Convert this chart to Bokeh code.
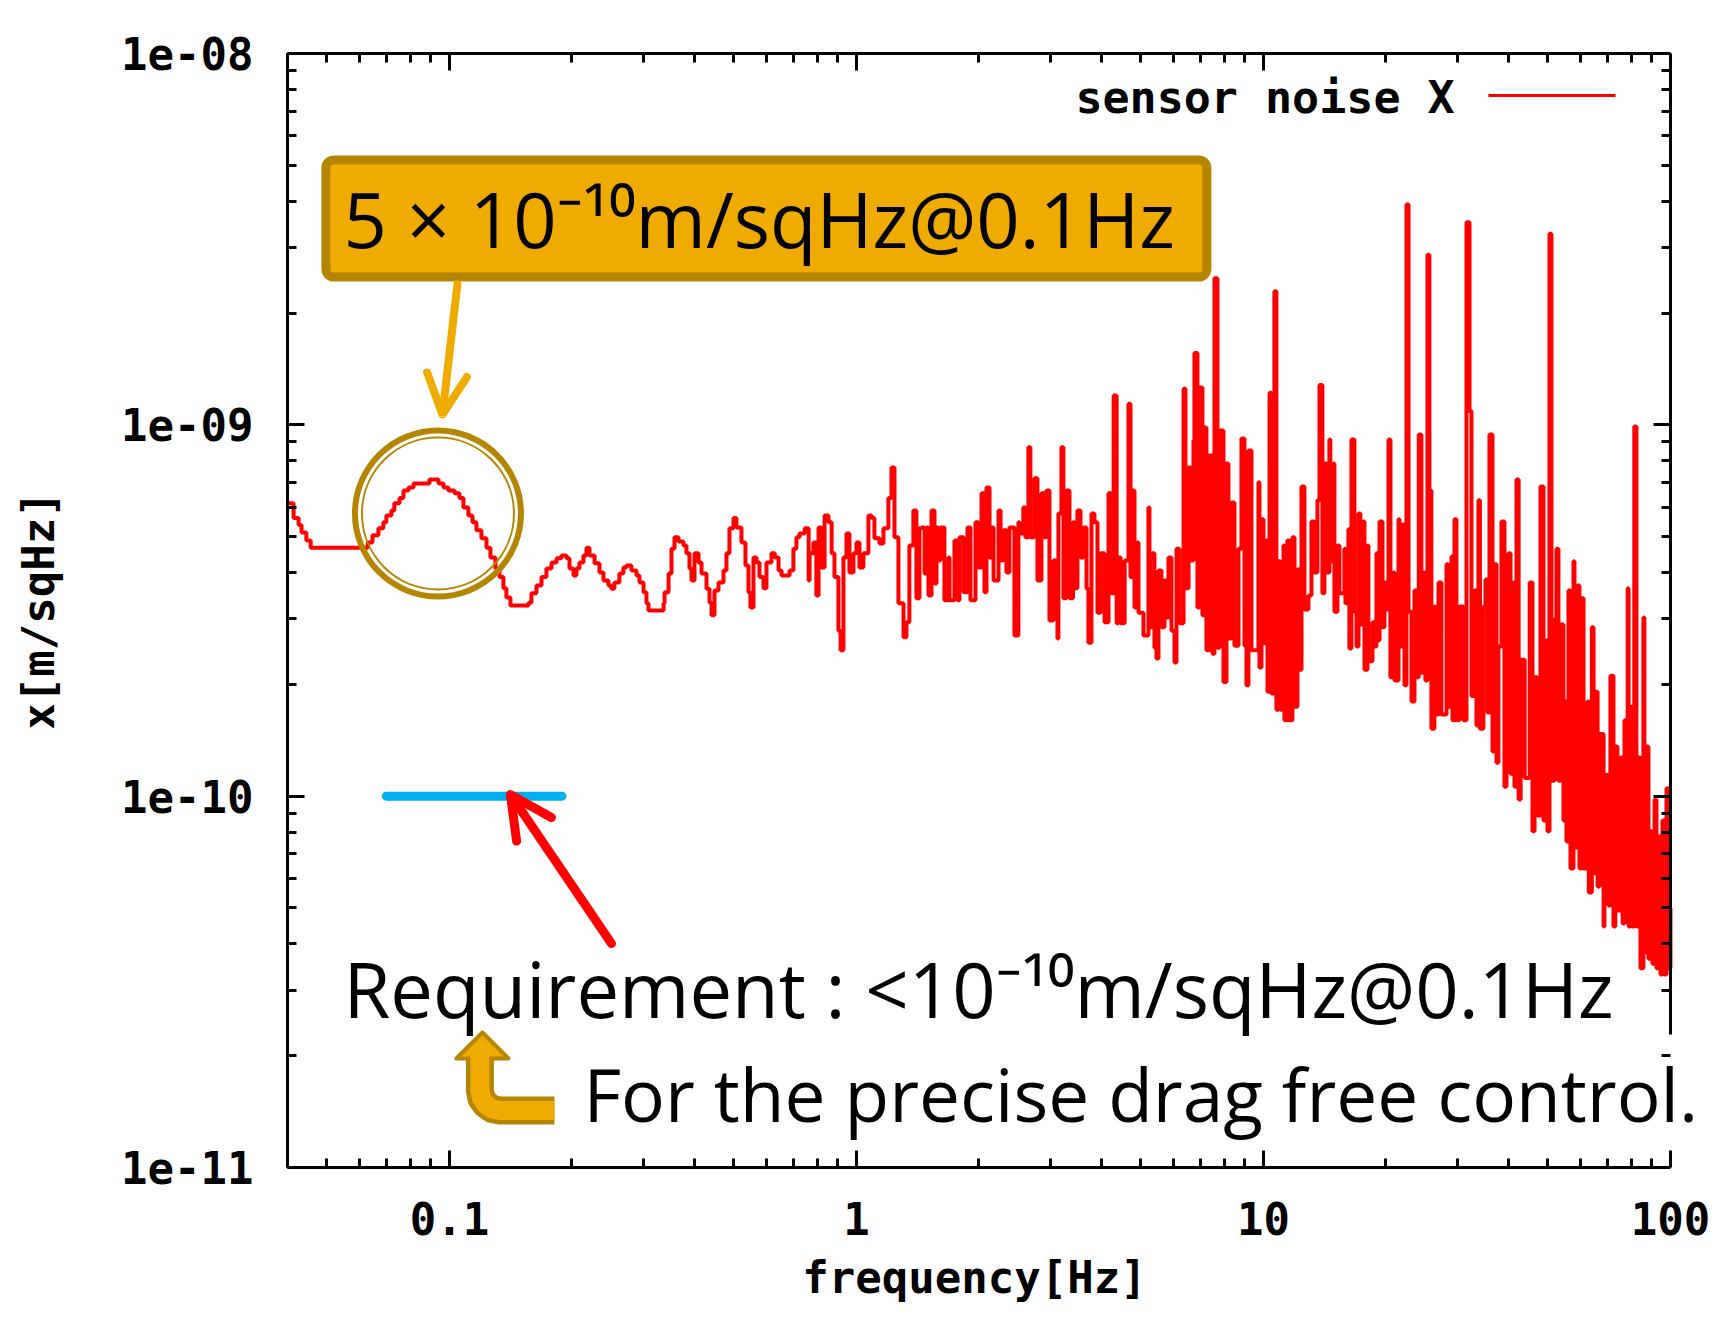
from bokeh.plotting import figure
from bokeh.models import (LogAxis, FixedTicker, CustomJSTickFormatter, Label,
                          Arrow, OpenHead, BoxAnnotation)
from bokeh.embed import file_html
from bokeh.resources import INLINE

# ---------------- data ----------------
freq_a = [0.0400, 0.0414, 0.0426, 0.0433, 0.0445, 0.0456, 0.0630, 0.0647, 0.0669, 0.0688,
          0.0700, 0.0720, 0.0732, 0.0754, 0.0771, 0.0793, 0.0816, 0.0893, 0.0940, 0.0967,
          0.0994]
asd_a = [6.15e-10, 5.61e-10, 5.37e-10, 5.13e-10, 4.88e-10, 4.67e-10, 4.82e-10, 5.04e-10, 5.27e-10, 5.47e-10,
         5.70e-10, 5.88e-10, 6.15e-10, 6.35e-10, 6.66e-10, 6.78e-10, 6.95e-10, 7.13e-10, 6.95e-10, 6.78e-10,
         6.66e-10]

freq_b = [0.1029, 0.1058, 0.1082, 0.1113, 0.1139, 0.1165, 0.1198, 0.1233, 0.1261, 0.1297, 0.1327, 0.1357, 0.1380, 0.1412,
          0.1564, 0.1590, 0.1636, 0.1683, 0.1731, 0.1781, 0.1833, 0.1884, 0.1939, 0.1972,
          0.2017, 0.2051, 0.2086, 0.2134, 0.2171, 0.2208, 0.2272, 0.2336, 0.2390, 0.2458, 0.2500, 0.2542, 0.2615, 0.2675,
          0.2721, 0.2799, 0.2881, 0.2930, 0.2998, 0.3048, 0.3083,
          0.3358, 0.3377, 0.3454, 0.3512, 0.3572, 0.3654, 0.3758, 0.3822, 0.3888, 0.3932,
          0.4000, 0.4092, 0.4162, 0.4281, 0.4354, 0.4404, 0.4479, 0.4582, 0.4713, 0.4793, 0.4875, 0.4987,
          0.5072, 0.5217, 0.5337, 0.5429, 0.5490, 0.5584, 0.5680, 0.5777, 0.5909,
          0.6010, 0.6183, 0.6300, 0.6435, 0.6546, 0.6850,
          0.7000, 0.7120, 0.7244, 0.7460, 0.7630, 0.7670, 0.7840, 0.7970,
          0.8070, 0.8200, 0.8350, 0.8540, 0.8690, 0.8830,
          0.9030, 0.9140, 0.9290, 0.9450, 0.9610, 0.9830]
asd_b = [6.54e-10, 6.35e-10, 5.99e-10, 5.70e-10, 5.47e-10, 5.20e-10, 4.95e-10, 4.67e-10, 4.39e-10, 4.10e-10, 3.89e-10, 3.63e-10, 3.43e-10, 3.26e-10,
         3.32e-10, 3.52e-10, 3.69e-10, 3.89e-10, 4.10e-10, 4.26e-10, 4.37e-10, 4.45e-10, 4.37e-10, 4.10e-10,
         3.93e-10, 4.10e-10, 4.26e-10, 4.45e-10, 4.67e-10, 4.45e-10, 4.24e-10, 4.00e-10, 3.81e-10, 3.69e-10, 3.62e-10, 3.76e-10, 3.98e-10, 4.13e-10,
         4.18e-10, 4.05e-10, 3.93e-10, 3.76e-10, 3.54e-10, 3.31e-10, 3.16e-10,
         3.31e-10, 3.54e-10, 3.98e-10, 4.64e-10, 4.98e-10, 4.85e-10, 4.73e-10, 4.51e-10, 4.10e-10, 3.81e-10,
         4.51e-10, 4.26e-10, 3.98e-10, 3.62e-10, 3.32e-10, 3.07e-10, 3.58e-10, 3.76e-10, 4.05e-10, 4.51e-10, 5.27e-10, 5.61e-10,
         5.29e-10, 4.82e-10, 4.18e-10, 3.54e-10, 3.22e-10, 4.39e-10, 4.26e-10, 3.89e-10, 3.63e-10,
         4.26e-10, 4.51e-10, 4.39e-10, 4.05e-10, 3.93e-10, 4.05e-10,
         4.64e-10, 4.98e-10, 5.10e-10, 5.27e-10, 3.81e-10, 4.51e-10, 4.82e-10, 3.47e-10,
         5.29e-10, 4.13e-10, 5.70e-10, 5.47e-10, 4.51e-10, 3.89e-10,
         2.79e-10, 2.47e-10, 4.39e-10, 5.10e-10, 4.00e-10, 4.51e-10]

freq_c = [1.000, 1.017, 1.040, 1.070, 1.089, 1.107, 1.139, 1.165, 1.198, 1.219,
          1.240, 1.268, 1.305, 1.327, 1.349, 1.380, 1.404, 1.428, 1.445, 1.470,
          1.486, 1.503, 1.529, 1.555, 1.573, 1.590, 1.608, 1.645, 1.683, 1.693,
          1.741, 1.771, 1.791, 1.833, 1.874, 1.906, 1.961, 1.994, 2.029, 2.063,
          2.087, 2.123, 2.147, 2.172, 2.234, 2.260, 2.297, 2.336, 2.376, 2.444,
          2.500, 2.515, 2.570, 2.600, 2.645, 2.675, 2.737, 2.784, 2.848, 2.897,
          2.930, 2.980, 3.048, 3.118, 3.135, 3.189, 3.225, 3.281, 3.337, 3.404,
          3.434, 3.491, 3.552, 3.613, 3.675, 3.715, 3.779, 3.844, 3.910, 3.977,
          4.069, 4.162, 4.236, 4.285, 4.358, 4.408, 4.458, 4.560, 4.659, 4.713,
          4.767, 4.821, 4.903, 4.931, 5.072, 5.217, 5.246, 5.337, 5.397, 5.458,
          5.521, 5.616, 5.713, 5.777, 5.843, 5.943, 6.045, 6.114, 6.218, 6.363,
          6.433, 6.546, 6.621, 6.730, 6.767, 6.883, 6.962, 7.081, 7.161, 7.243,
          7.367, 7.494, 7.580, 7.709, 7.797, 7.975, 8.112, 8.204, 8.345, 8.487,
          8.683, 8.830, 8.981, 9.083, 9.186, 9.344, 9.721, 9.777, 9.888]
asd_c = [4.82e-10, 4.13e-10, 4.51e-10, 5.70e-10, 5.61e-10, 4.95e-10, 4.79e-10, 5.27e-10, 6.35e-10, 7.68e-10,
         4.98e-10, 3.31e-10, 2.68e-10, 2.94e-10, 4.73e-10, 5.88e-10, 3.41e-10, 5.27e-10, 5.29e-10, 3.98e-10,
         5.29e-10, 3.47e-10, 5.88e-10, 3.74e-10, 5.29e-10, 4.31e-10, 5.29e-10, 3.37e-10, 4.39e-10, 3.37e-10,
         4.88e-10, 3.37e-10, 4.98e-10, 3.54e-10, 5.29e-10, 3.37e-10, 5.47e-10, 4.13e-10, 6.54e-10, 3.54e-10,
         6.78e-10, 4.39e-10, 5.29e-10, 3.81e-10, 5.88e-10, 4.31e-10, 5.20e-10, 4.00e-10, 5.29e-10, 2.71e-10,
         5.47e-10, 5.10e-10, 5.99e-10, 4.98e-10, 8.70e-10, 4.98e-10, 7.18e-10, 3.81e-10, 6.54e-10, 4.98e-10,
         6.66e-10, 2.97e-10, 4.31e-10, 2.66e-10, 5.77e-10, 8.70e-10, 3.41e-10, 6.66e-10, 3.41e-10, 5.47e-10,
         3.63e-10, 5.88e-10, 4.39e-10, 5.29e-10, 3.62e-10, 2.59e-10, 5.77e-10, 5.47e-10, 3.12e-10, 4.51e-10,
         2.94e-10, 6.54e-10, 3.52e-10, 1.20e-9, 2.92e-10, 4.39e-10, 2.92e-10, 4.31e-10, 1.14e-9, 3.89e-10,
         6.66e-10, 3.22e-10, 4.82e-10, 3.12e-10, 2.71e-10, 5.99e-10, 2.85e-10, 4.51e-10, 2.51e-10, 2.35e-10,
         4.05e-10, 2.85e-10, 3.81e-10, 3.03e-10, 4.39e-10, 2.79e-10, 2.29e-10, 4.64e-10, 2.92e-10, 1.25e-9,
         3.63e-10, 7.68e-10, 4.31e-10, 9.08e-10, 1.56e-9, 3.22e-10, 1.26e-9, 3.07e-10, 9.84e-10, 2.47e-10,
         8.27e-10, 2.42e-10, 2.48e-9, 2.51e-10, 9.66e-10, 2.03e-10, 7.87e-10, 2.66e-10, 6.18e-10, 2.54e-10,
         4.64e-10, 9.19e-10, 2.54e-10, 1.99e-10, 8.53e-10, 2.47e-10, 7.00e-10, 2.22e-10, 5.57e-10]

freq_d = [10.00, 10.17, 10.23, 10.35, 10.46, 10.64, 10.76, 10.89, 11.01, 11.20,
          11.26, 11.45, 11.58, 11.78, 11.92, 12.12, 12.26, 12.40, 12.61, 12.90,
          13.12, 13.34, 13.57, 13.73, 13.96, 14.12, 14.28, 14.52, 14.60, 14.86,
          14.94, 15.20, 15.37, 15.81, 15.90, 16.17, 16.26, 16.45, 16.73, 16.93,
          17.12, 17.31, 17.61, 17.71, 18.01, 18.11, 18.53, 18.74, 18.95, 19.17,
          19.28, 19.61, 19.83, 20.07, 20.29, 20.51, 20.87, 20.99, 21.47, 21.59,
          21.96, 22.21, 22.46, 22.72, 23.11, 23.50, 23.77, 24.08, 24.44, 24.86,
          25.00, 25.29, 25.57, 25.86, 26.30, 26.45, 26.92, 27.37, 28.17, 28.48,
          28.97, 29.14, 29.47, 29.80, 30.31, 30.99, 31.54, 32.08, 32.44, 33.00,
          33.37, 33.75, 34.04, 34.71, 35.11, 35.52, 35.92, 36.54, 36.96, 37.38,
          37.79, 38.44, 39.10, 39.55, 40.00, 40.46, 41.16, 41.38, 41.86, 42.36,
          42.85, 43.84, 45.10, 45.82, 46.35, 47.13, 47.93, 48.75, 49.60, 49.87,
          50.44, 51.01, 51.88, 52.46, 53.06, 53.67, 54.58, 55.21, 55.53, 56.16,
          56.80, 57.77, 58.10, 59.09, 59.76, 60.40, 61.15, 62.52, 63.00, 64.10,
          64.72, 65.46, 66.21, 66.97, 68.50, 68.84, 70.40, 71.20, 72.44, 73.20,
          74.10, 75.40, 76.30, 77.10, 77.60, 78.50, 78.90, 79.70, 80.60, 81.50,
          82.50, 83.40, 84.40, 85.80, 86.30, 87.30, 88.30, 89.30, 90.30, 91.40,
          92.40, 93.40, 94.50, 95.60, 96.70, 97.80, 98.90, 100.0]
asd_d = [2.58e-10, 4.88e-10, 1.91e-10, 1.22e-9, 1.89e-10, 2.29e-9, 1.71e-10, 4.29e-10, 1.71e-10, 4.73e-10,
         1.60e-10, 4.88e-10, 1.60e-10, 4.98e-10, 1.74e-10, 4.08e-10, 2.19e-10, 6.82e-10, 3.18e-10, 3.47e-10,
         5.49e-10, 4.00e-10, 6.26e-10, 1.28e-9, 3.52e-10, 7.87e-10, 4.00e-10, 9.13e-10, 4.29e-10, 7.87e-10,
         3.14e-10, 4.73e-10, 3.52e-10, 4.64e-10, 3.31e-10, 5.23e-10, 2.50e-10, 9.13e-10, 3.14e-10, 2.53e-10,
         5.77e-10, 2.90e-10, 5.49e-10, 2.19e-10, 4.73e-10, 2.31e-10, 2.94e-10, 2.53e-10, 4.51e-10, 2.63e-10,
         5.49e-10, 2.85e-10, 3.76e-10, 3.18e-10, 9.13e-10, 2.09e-10, 4.00e-10, 2.05e-10, 5.57e-10, 2.53e-10,
         5.39e-10, 1.99e-10, 3.92e-9, 3.14e-10, 1.80e-10, 3.58e-10, 2.09e-10, 9.42e-10, 2.15e-10, 4.00e-10,
         2.05e-10, 2.87e-9, 6.66e-10, 1.52e-10, 3.24e-10, 1.66e-10, 3.76e-10, 1.66e-10, 4.21e-10, 1.74e-10,
         4.42e-10, 1.60e-10, 5.57e-10, 1.60e-10, 3.24e-10, 1.60e-10, 3.51e-9, 1.09e-9, 1.86e-10, 3.58e-10,
         1.55e-10, 6.26e-10, 1.52e-10, 3.24e-10, 3.83e-10, 1.68e-10, 9.42e-10, 1.32e-10, 4.21e-10, 1.23e-10,
         2.53e-10, 5.49e-10, 1.06e-10, 2.09e-10, 4.51e-10, 1.15e-10, 3.76e-10, 1.06e-10, 7.13e-10, 9.80e-11,
         2.33e-10, 1.12e-10, 3.76e-10, 8.04e-11, 2.09e-10, 8.87e-11, 6.82e-10, 8.60e-11, 2.63e-10, 8.04e-11,
         3.27e-9, 1.10e-10, 2.99e-10, 4.64e-10, 1.10e-10, 2.90e-10, 8.60e-11, 1.80e-10, 7.55e-11, 3.58e-10,
         6.39e-11, 4.29e-10, 7.27e-11, 3.69e-10, 6.39e-11, 3.41e-10, 6.39e-11, 1.80e-10, 5.50e-11, 2.85e-10,
         6.20e-11, 1.91e-10, 5.71e-11, 1.47e-10, 4.46e-11, 1.14e-10, 5.08e-11, 2.11e-10, 4.46e-11, 1.36e-10,
         4.92e-11, 1.27e-10, 4.54e-11, 1.60e-10, 4.59e-11, 3.63e-10, 4.46e-11, 1.74e-10, 4.46e-11, 9.90e-10,
         4.46e-11, 1.27e-10, 3.44e-11, 3.03e-10, 3.80e-11, 1.36e-10, 3.65e-11, 8.04e-11, 3.54e-11, 9.80e-11,
         3.44e-11, 7.79e-11, 3.31e-11, 8.60e-11, 3.31e-11, 1.05e-10, 3.44e-11, 5.00e-11]

freq_hz = freq_a + freq_b + freq_c + freq_d
asd_x = asd_a + asd_b + asd_c + asd_d

# requirement line (10^-10 m/sqHz around 0.1 Hz)
req_freq = [0.070, 0.189]
req_level = [1e-10, 1e-10]

x_major = [0.1, 1.0, 10.0, 100.0]
y_major = [1e-11, 1e-10, 1e-9, 1e-8]
x_minor = [m * 10.0 ** e for e in (-2, -1, 0, 1) for m in range(2, 10)]
y_minor = [m * 10.0 ** e for e in (-11, -10, -9) for m in range(2, 10)]

X_MIN, X_MAX = 0.04, 100.0      # plotted frequency span
Y_MIN, Y_MAX = 1e-11, 1e-8

# ---------------- styles ----------------
GP_FONT = "DejaVu Sans Mono"
PPT_FONT = "Open Sans"
ORANGE = "#F0AB00"
GOLD = "#B68500"
RED = "#FF0000"
BLUE = "#00B0F0"

# the frame runs to the canvas edge so that the slide text may pass the plot border;
# the right border is an axis fixed at X_MAX
p = figure(width=1714, height=1305, x_axis_type="log", y_axis_type="log",
           x_range=(X_MIN, 128.3), y_range=(Y_MIN, Y_MAX),
           output_backend="svg", toolbar_location=None,
           min_border_left=287, min_border_right=0, min_border_top=53, min_border_bottom=138,
           background_fill_color="white", border_fill_color="white", outline_line_color=None)
p.xgrid.visible = False
p.ygrid.visible = False


def style_axis(ax):
    ax.axis_line_width = 3
    ax.axis_line_color = "black"
    ax.major_tick_in = 17
    ax.major_tick_out = 0
    ax.minor_tick_in = 9
    ax.minor_tick_out = 0
    ax.major_tick_line_width = 3
    ax.minor_tick_line_width = 3
    ax.major_tick_line_color = "black"
    ax.minor_tick_line_color = "black"
    ax.major_label_text_font = GP_FONT
    ax.major_label_text_font_style = "bold"
    ax.major_label_text_font_size = "44px"
    ax.major_label_text_color = "black"
    ax.axis_label_text_font = GP_FONT
    ax.axis_label_text_font_style = "bold"
    ax.axis_label_text_font_size = "44px"
    ax.axis_label_text_color = "black"


xa = p.xaxis[0]
xa.ticker = FixedTicker(ticks=x_major, minor_ticks=x_minor)
xa.formatter = CustomJSTickFormatter(code="return tick < 1 ? tick.toFixed(1) : tick.toFixed(0);")
xa.axis_label = "frequency[Hz]\u00a0\u00a0"
xa.bounds = (X_MIN, X_MAX)
style_axis(xa)
xa.major_label_standoff = 34
xa.axis_label_standoff = 14

ya = p.yaxis[0]
ya.ticker = FixedTicker(ticks=y_major, minor_ticks=y_minor)
ya.formatter = CustomJSTickFormatter(code=r"""
const s = tick.toExponential(0);
return s.replace(/e([+-])(\d)$/, function(m, sg, d) { return 'e' + sg + '0' + d; });
""")
ya.axis_label = "x[m/sqHz]"
style_axis(ya)
ya.major_label_standoff = 34
ya.axis_label_standoff = 54

top = LogAxis(ticker=FixedTicker(ticks=x_major, minor_ticks=x_minor),
              formatter=CustomJSTickFormatter(code="return '';"), bounds=(X_MIN, X_MAX))
style_axis(top)
p.add_layout(top, "above")
# right border: stops where the slide text box covers it
right = LogAxis(ticker=FixedTicker(ticks=y_major, minor_ticks=y_minor),
                formatter=CustomJSTickFormatter(code="return '';"),
                fixed_location=X_MAX, bounds=(2.28e-11, Y_MAX))
style_axis(right)
right.major_label_standoff = 0
right.major_label_text_font_size = "1px"
p.add_layout(right, "right")

# ---------------- data line ----------------
p.step(freq_hz, asd_x, mode="after", line_color=RED, line_width=4)

# ---------------- annotations ----------------
# ring around the 0.1 Hz hump
p.circle(x=[0.0937], y=[5.77e-10], radius=83, radius_units="screen",
         fill_color=None, line_color=GOLD, line_width=6)
p.circle(x=[0.0937], y=[5.77e-10], radius=76, radius_units="screen",
         fill_color=None, line_color=GOLD, line_width=2)

# requirement level
p.line(req_freq, req_level, line_color=BLUE, line_width=9, line_cap="round")

# red arrow pointing at the requirement level
p.add_layout(Arrow(end=OpenHead(size=42, line_color=RED, line_width=9, line_cap="round"),
                   x_start=0.250, y_start=4.01e-11, x_end=0.1412, y_end=1.01e-10,
                   line_color=RED, line_width=9, line_cap="round"))

# callout box
p.add_layout(BoxAnnotation(left=0.0497, right=7.26, top=5.17e-9, bottom=2.50e-9,
                           fill_color=ORANGE, fill_alpha=1.0, line_color=GOLD,
                           line_width=9, line_alpha=1.0, border_radius=8))
p.add_layout(Label(x=0.0549, y=3.59e-9, text="5 × 10⁻¹⁰m/sqHz@0.1Hz",
                   text_font=PPT_FONT, text_font_size="76px", text_color="black",
                   text_align="left", text_baseline="alphabetic"))
p.add_layout(Arrow(end=OpenHead(size=40, line_color=ORANGE, line_width=8, line_cap="round"),
                   x_start=0.1046, y_start=2.39e-9, x_end=0.0961, y_end=1.066e-9,
                   line_color=ORANGE, line_width=8, line_cap="round"))

# bent arrow
bent_x = [0.1188, 0.1188, 0.1198, 0.1229, 0.1274, 0.1331, 0.1811]
bent_y = [1.966e-11, 1.612e-11, 1.537e-11, 1.477e-11, 1.437e-11, 1.424e-11, 1.424e-11]
p.line(bent_x, bent_y, line_color=GOLD, line_width=28, line_join="round")
p.patch([0.1040, 0.1396, 0.1205], [1.966e-11, 1.966e-11, 2.31e-11],
        fill_color=ORANGE, line_color=GOLD, line_width=4, line_join="round")
p.line([0.1188] + bent_x[1:], [2.015e-11] + bent_y[1:], line_color=ORANGE, line_width=19,
       line_join="round")

# texts
p.add_layout(Label(x=0.0549, y=3.03e-11, text="Requirement : <10⁻¹⁰m/sqHz@0.1Hz",
                   text_font=PPT_FONT, text_font_size="76px", text_color="black",
                   text_align="left", text_baseline="alphabetic"))
p.add_layout(Label(x=0.2134, y=1.582e-11, text="For the precise drag free control.",
                   text_font=PPT_FONT, text_font_size="73px", text_color="black",
                   text_align="left", text_baseline="alphabetic"))

# key (text then line sample, gnuplot style)
p.add_layout(Label(x=29.5, y=7.61e-9, text="sensor noise X",
                   text_font=GP_FONT, text_font_style="bold", text_font_size="45px",
                   text_color="black", text_align="right", text_baseline="middle"))
p.add_layout(Arrow(end=None, x_start=35.7, y_start=7.71e-9, x_end=73.3, y_end=7.71e-9,
                   line_color=RED, line_width=3))

open("out.html", "w").write(file_html(p, INLINE, title="sensor noise X"))
